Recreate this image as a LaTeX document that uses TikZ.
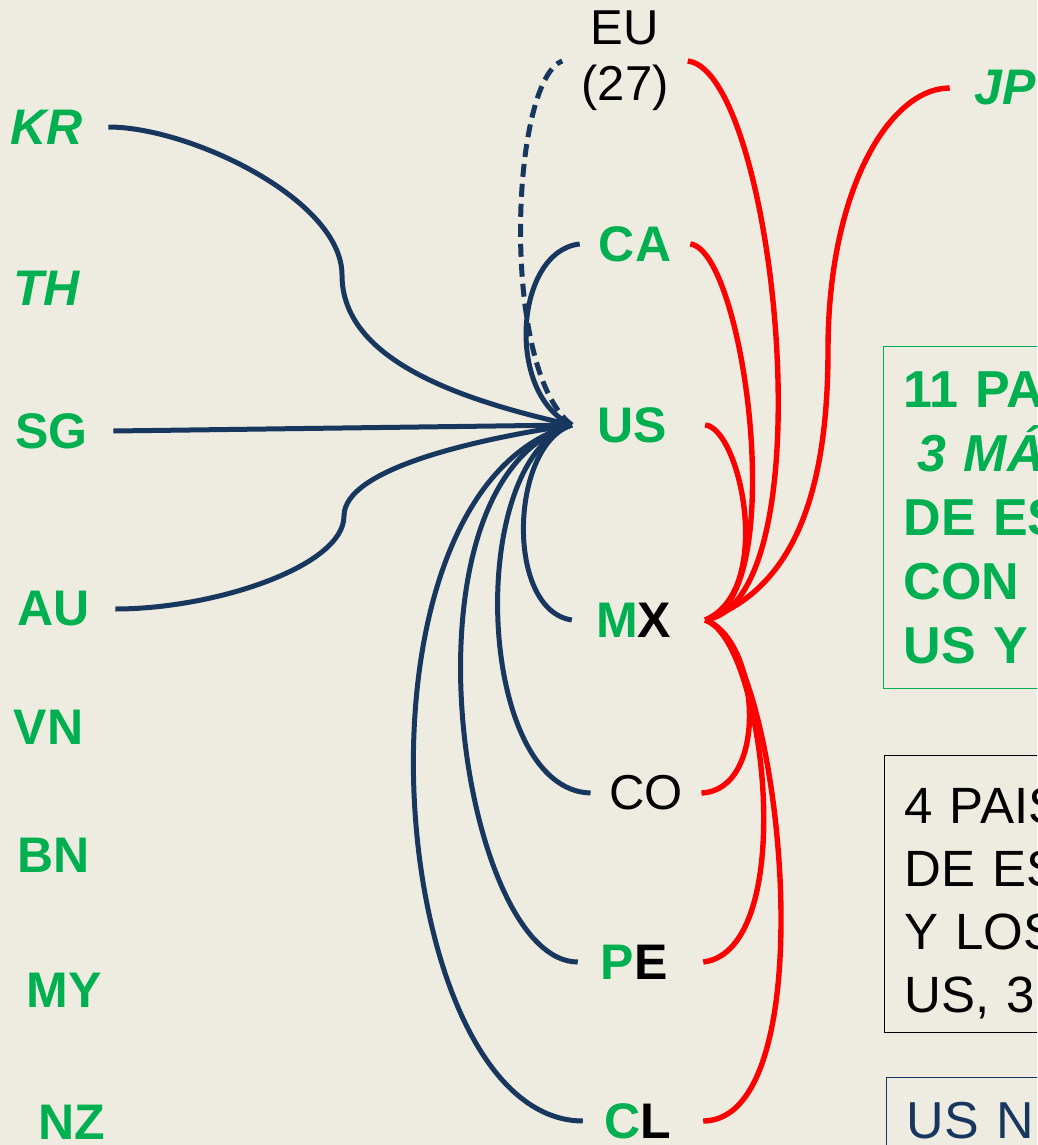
\documentclass[tikz,border=0pt]{standalone}
\usepackage{fontspec}
\setmainfont{Liberation Sans}

\definecolor{tpgreen}{HTML}{00B050}
\definecolor{tpblue}{HTML}{17375E}
\definecolor{tpred}{HTML}{FF0000}
\definecolor{tpback}{HTML}{EEECE1}

\tikzset{
  country/.style={text=tpgreen,font=\fontsize{50}{58}\selectfont\bfseries,inner ysep=0pt,inner xsep=25.5pt},
  other/.style={text=black,font=\fontsize{49}{56}\selectfont,align=center,inner ysep=0pt},
  blueline/.style={draw=tpblue,line width=5pt},
  redline/.style={draw=tpred,line width=5.4pt},
  infobox/.style={anchor=north west,text width=260pt,align=left,inner xsep=20pt,line width=1.2pt}
}

\begin{document}
\begin{tikzpicture}[x=1pt,y=-1pt]
  \fill[tpback] (0,0) rectangle (1037,1145);
  \clip (0,0) rectangle (1037,1145);
  % instantiate nodes
  \node[other,inner xsep=19pt] (EU) at (625,61) {EU\\(27)};
  \node[country,inner xsep=19pt] (CA) at (635,244) {CA};
  \node[country,inner xsep=25.25pt] (US) at (638.5,425) {US\kern13pt};
  \node[country,inner xsep=24pt] (MX) at (638.5,620) {M{\color{black}X}\kern10pt};
  \node[other,inner xsep=18.5pt] (CO) at (646,793) {CO};
  \node[country,inner xsep=22.7pt] (PE) at (640.5,962) {P{\color{black}E}\kern13pt};
  \node[country,inner xsep=21.7pt] (CL) at (643,1121) {C{\color{black}L}\kern10pt};
  \node[country,inner xsep=25pt,font=\fontsize{50}{58}\selectfont\bfseries\itshape] (JP) at (1005.5,88) {JP};
  % members on the left
  \node[country,font=\fontsize{50}{58}\selectfont\bfseries\itshape] (KR) at (46.5,127) {KR};
  \node[country,font=\fontsize{50}{58}\selectfont\bfseries\itshape] (TH) at (46.5,288) {TH};
  \node[country] (SG) at (51.5,431) {SG};
  \node[country] (AU) at (53.5,609) {AU};
  \node[country] (VN) at (48.5,727) {VN};
  \node[country] (BN) at (54,855) {BN};
  \node[country] (MY) at (64,990) {MY};
  \node[country] (NZ) at (71.5,1122) {NZ};
  \coordinate (KRbend) at (342,275);
  \coordinate (SGbend) at (342,428);
  \coordinate (AUbend) at (344,516);
  \coordinate (JPbend) at (828,350);
  % blue links to US
  \draw[blueline] (KR.east) .. controls +(82,0) and +(0,-75) .. (KRbend)
    .. controls +(0,85) and +(-112,-25) .. (US.west);
  \draw[blueline] (SG.east) -- (SGbend) -- (US.west);
  \draw[blueline] (AU.east) .. controls +(100,0) and +(0,50) .. (AUbend)
    .. controls +(0,-46) and +(-102,15) .. (US.west);
  \draw[blueline,dash pattern=on 13pt off 7pt] (US.west) .. controls +(-72,-55) and +(-52,20) .. (EU.west);
  \draw[blueline] (US.west) .. controls +(-67,-30) and +(-65,7) .. (CA.west);
  \draw[blueline] (US.west) .. controls +(-62,20) and +(-67,-10) .. (MX.west);
  \draw[blueline] (US.west) .. controls +(-107,35) and +(-115,-3) .. (CO.west);
  \draw[blueline] (US.west) .. controls +(-182,55) and +(-118,0) .. (PE.west);
  \draw[blueline] (US.west) .. controls +(-237,65) and +(-198,-1) .. (CL.west);
  % red links to MX
  \draw[redline] (EU.east) .. controls +(87,10) and +(125,-20) .. (MX.east);
  \draw[redline] (CA.east) .. controls +(55,7) and +(85,-20) .. (MX.east);
  \draw[redline] (US.east) .. controls +(35,3) and +(70,-30) .. (MX.east);
  \draw[redline] (JP.west) .. controls +(-60,0) and +(0,-160) .. (JPbend)
    .. controls +(0,150) and +(85,-30) .. (MX.east);
  \draw[redline] (MX.east) .. controls +(55,20) and +(68,-3) .. (CO.east);
  \draw[redline] (MX.east) .. controls +(60,20) and +(97,-12) .. (PE.east);
  \draw[redline] (MX.east) .. controls +(75,20) and +(127,-1) .. (CL.east);
  % boxes on the right
  \node[infobox,draw=tpgreen,text=tpgreen,minimum height=342pt,inner ysep=0pt,
    font=\fontsize{52}{64}\selectfont\bfseries] (GBox) at (883,346)
    {11 PA\\\hspace*{14pt}\textit{3 MÁ}\\DE ES\\CON\\US Y};
  \node[infobox,draw=black,text=black,minimum height=277pt,inner ysep=0pt,
    font=\fontsize{51}{63}\selectfont] (KBox) at (884,755)
    {\rule{0pt}{54pt}4 PAIS\\DE ES\\Y LOS\\US, 3};
  \node[infobox,draw=tpblue,text=tpblue,inner ysep=25pt,
    font=\fontsize{52}{62}\selectfont] (BBox) at (886,1077) {US N};
\end{tikzpicture}
\end{document}
